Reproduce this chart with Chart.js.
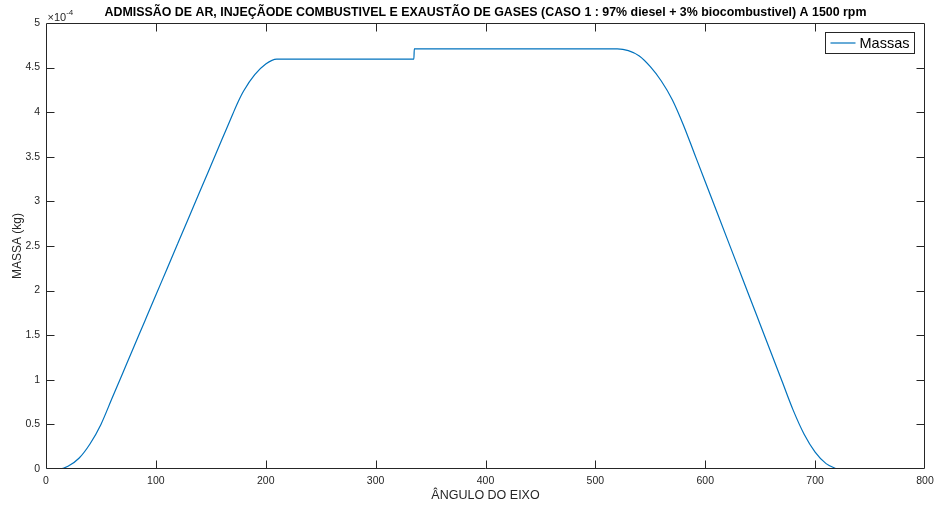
<!DOCTYPE html>
<html>
  <head>
    <title>Massas</title>
    <script src="https://cdn.jsdelivr.net/npm/chart.js@4.4.1/dist/chart.umd.min.js"></script>
    <style>
      html, body { margin: 0; padding: 0; background: #fff; }
      #wrap { width: 936px; height: 506px; }
    </style>
  </head>
  <body>
    <div id="wrap"><canvas id="myChart" width="936" height="506"></canvas></div>
    <script>
      // shaft angle (deg) and mass, in units of 1e-4 kg
      const angle = [0, 12, 20, 30, 40, 50, 60, 70, 80, 90, 100, 110, 120, 130, 140, 150, 160, 170, 175, 180, 190, 200, 210,
        334.8, 335.2, 520, 530, 540, 550, 560, 570, 580, 590, 600, 610, 620, 630, 640, 650, 660, 670, 680, 690, 700, 710, 720];
      const massa = [0, 0, 0.03, 0.12, 0.28, 0.50, 0.79, 1.08, 1.37, 1.66, 1.95, 2.24, 2.53, 2.82, 3.11, 3.40, 3.69, 3.98, 4.12, 4.24, 4.42, 4.54, 4.595,
        4.595, 4.71, 4.71, 4.69, 4.63, 4.51, 4.35, 4.14, 3.86, 3.54, 3.22, 2.90, 2.58, 2.26, 1.94, 1.62, 1.30, 0.98, 0.66, 0.39, 0.19, 0.06, 0];
      const xTicks = [0, 800, 100];
      const yTicks = [0, 5, 0.5];
      const seriesName = "Massas";
      const titleText = "ADMISSÃO DE AR, INJEÇÃODE COMBUSTIVEL E EXAUSTÃO DE GASES (CASO 1 : 97% diesel + 3% biocombustivel) A 1500 rpm";

      const FONT = "'Liberation Sans', Arial, Helvetica, sans-serif";
      const AX = "#262626";
      const LINE = "#0072BD";

      const matlabAxes = {
        id: "matlabAxes",
        afterDatasetsDraw(chart) {
          const { ctx, chartArea: a, scales } = chart;
          const L = Math.round(a.left) + 0.5, R = Math.round(a.right) - 0.5;
          const T = Math.round(a.top) + 0.5, B = Math.round(a.bottom) - 0.5;
          ctx.save();
          ctx.strokeStyle = AX;
          ctx.lineWidth = 1;
          ctx.beginPath();
          ctx.rect(L, T, R - L, B - T);
          scales.x.ticks.forEach(t => {
            const px = Math.round(scales.x.getPixelForValue(t.value)) + 0.5;
            if (px <= L + 1 || px >= R - 1) return;
            ctx.moveTo(px, B); ctx.lineTo(px, B - 8);
            ctx.moveTo(px, T); ctx.lineTo(px, T + 8);
          });
          scales.y.ticks.forEach(t => {
            const py = Math.round(scales.y.getPixelForValue(t.value)) + 0.5;
            if (py <= T + 1 || py >= B - 1) return;
            ctx.moveTo(L, py); ctx.lineTo(L + 8, py);
            ctx.moveTo(R, py); ctx.lineTo(R - 8, py);
          });
          ctx.stroke();

          // exponent
          ctx.fillStyle = AX;
          ctx.textBaseline = "alphabetic";
          ctx.font = "11px " + FONT;
          ctx.fillText("×10", L + 1, T - 3);
          const w = ctx.measureText("×10").width;
          ctx.font = "8px " + FONT;
          ctx.fillText("-4", L + 1 + w, T - 9);

          // legend
          const ds = chart.data.datasets[0];
          const bx = Math.round(a.right) - 99.5, by = Math.round(a.top) + 9.5;
          ctx.fillStyle = "#fff";
          ctx.fillRect(bx, by, 89, 21);
          ctx.strokeStyle = AX;
          ctx.strokeRect(bx, by, 89, 21);
          ctx.strokeStyle = ds.borderColor;
          ctx.lineWidth = 1.2;
          ctx.beginPath();
          ctx.moveTo(bx + 5, by + 10.5); ctx.lineTo(bx + 30, by + 10.5);
          ctx.stroke();
          ctx.fillStyle = "#000";
          ctx.font = "14.5px " + FONT;
          ctx.textBaseline = "middle";
          ctx.fillText(ds.label, bx + 34, by + 11);
          ctx.restore();
        }
      };

      new Chart(document.getElementById("myChart"), {
        type: "line",
        data: {
          datasets: [{
            label: seriesName,
            data: angle.map((a, i) => ({ x: a, y: massa[i] })),
            borderColor: LINE,
            borderWidth: 1.2,
            pointRadius: 0,
            fill: false,
            cubicInterpolationMode: "monotone"
          }]
        },
        options: {
          responsive: false,
          animation: false,
          layout: { padding: { left: 0, right: 11, top: 0, bottom: 0 } },
          plugins: {
            legend: { display: false },
            tooltip: { enabled: false },
            title: {
              display: true,
              text: titleText,
              fullSize: false,
              color: "#000",
              font: { family: FONT, size: 12.4, weight: "bold" },
              padding: { top: 5.5, bottom: 2.6 }
            }
          },
          scales: {
            x: {
              type: "linear",
              min: xTicks[0], max: xTicks[1],
              grid: { display: false, drawTicks: false },
              border: { display: false },
              ticks: { stepSize: xTicks[2], color: AX, padding: 6, font: { family: FONT, size: 10.5 } },
              title: { display: true, text: "ÂNGULO DO EIXO", color: AX, font: { family: FONT, size: 12.5 }, padding: { top: 0, bottom: 3 } },
              afterFit: s => { s.height = 37; s.paddingLeft = 0; s.paddingRight = 0; }
            },
            y: {
              type: "linear",
              min: yTicks[0], max: yTicks[1],
              grid: { display: false, drawTicks: false },
              border: { display: false },
              ticks: { stepSize: yTicks[2], color: AX, padding: 6, font: { family: FONT, size: 10.5 }, callback: v => String(v) },
              title: { display: true, text: "MASSA (kg)", color: AX, font: { family: FONT, size: 12 }, padding: { top: 10, bottom: 0 } },
              afterFit: s => { s.width = 46; }
            }
          }
        },
        plugins: [matlabAxes]
      });
    </script>
  </body>
</html>
